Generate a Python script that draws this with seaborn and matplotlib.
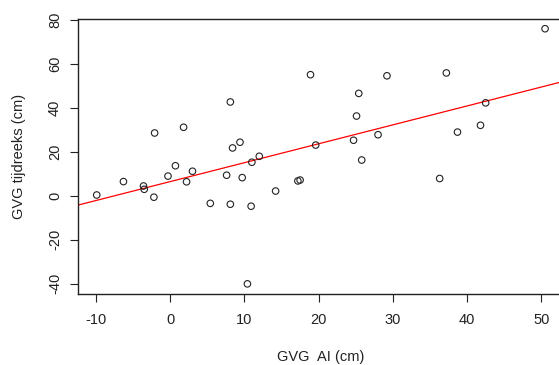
import numpy as np
import pandas as pd
import matplotlib
matplotlib.use("Agg")
import matplotlib.pyplot as plt
import seaborn as sns

# Data
gvg_ai = [-9.9, -6.3, -3.6, -3.5, -2.2, -2.1, -0.3, 0.7, 1.8, 2.2,
          3.0, 5.4, 7.6, 8.1, 8.1, 8.4, 9.4, 9.7, 10.4, 10.9,
          11.0, 12.0, 14.2, 17.2, 17.5, 18.9, 19.6, 24.7, 25.1, 25.4,
          25.8, 28.0, 29.2, 36.3, 37.2, 38.7, 41.8, 42.5, 50.5]
gvg_tijdreeks = [0.3, 6.4, 4.4, 2.9, -0.7, 28.5, 8.9, 13.6, 31.1, 6.3,
                 11.1, -3.5, 9.3, 42.6, -3.9, 21.7, 24.3, 8.2, -40.1, -4.8,
                 15.2, 17.9, 2.1, 6.7, 7.1, 55.0, 23.0, 25.2, 36.2, 46.5,
                 16.2, 27.7, 54.5, 7.8, 55.8, 28.9, 32.0, 42.2, 75.9]
x_ticks = [-10, 0, 10, 20, 30, 40, 50]
y_ticks = [-40, -20, 0, 20, 40, 60, 80]
x_label = "GVG  AI (cm)"
y_label = "GVG tijdreeks (cm)"

sns.set_style("white")
plt.rcParams['font.family'] = ['Liberation Sans', 'DejaVu Sans']
plt.rcParams['axes.unicode_minus'] = False

df = pd.DataFrame({"ai": gvg_ai, "tijd": gvg_tijdreeks})

fig = plt.figure(figsize=(5.59, 3.65), dpi=100)
ax = fig.add_axes([0.1401, 0.194, 0.8671, 0.755])

sns.scatterplot(data=df, x="ai", y="tijd", ax=ax, marker="o", s=22,
                facecolor="none", edgecolor="#222222", linewidth=0.8, zorder=3)

ax.set_xlim(-40, 80)
sns.regplot(data=df, x="ai", y="tijd", ax=ax, scatter=False, ci=None,
            truncate=False, color="red", line_kws={"linewidth": 0.9, "zorder": 2})

ax.set_xlim(-12.38, 52.92)
ax.set_ylim(-44.8, 80.5)
ax.set_xticks(x_ticks)
ax.set_yticks(y_ticks)
ax.set_xticklabels([str(t) for t in x_ticks])
ax.set_yticklabels([str(t) for t in y_ticks])

tc = "#222222"
ax.tick_params(axis="both", which="major", bottom=True, left=True,
               direction="out", length=5.8, width=0.8, color=tc,
               labelsize=10.5, labelcolor=tc, pad=8)
ax.tick_params(axis="y", labelrotation=90, pad=6)
for lab in ax.get_yticklabels():
    lab.set_va("center")

for side in ["left", "bottom", "top"]:
    ax.spines[side].set_visible(True)
    ax.spines[side].set_color(tc)
    ax.spines[side].set_linewidth(1.0)
ax.spines["right"].set_visible(False)

ax.set_xlabel(x_label, fontsize=10.5, color=tc, labelpad=16)
ax.set_ylabel(y_label, fontsize=10.5, color=tc, labelpad=16)

fig.savefig("out.png", dpi=100)
